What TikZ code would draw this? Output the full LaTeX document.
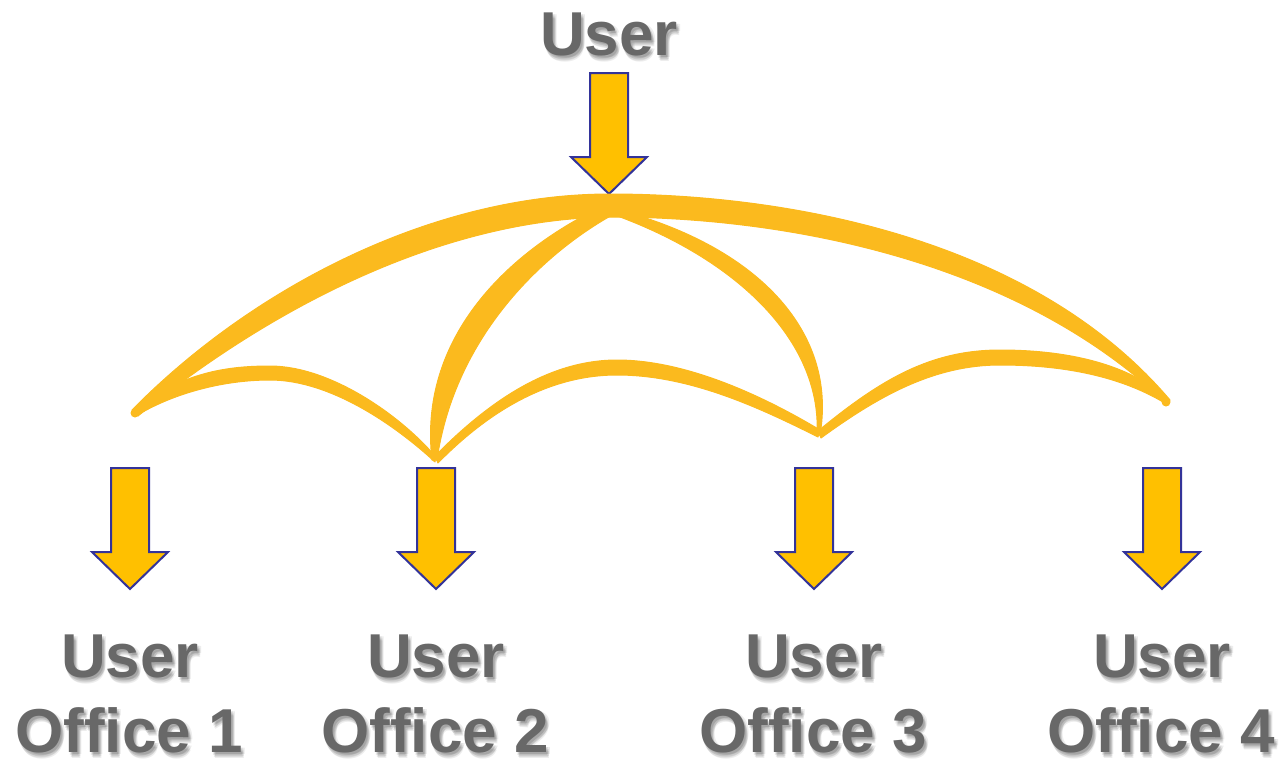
\documentclass[tikz,border=0pt]{standalone}
\usepackage{fontspec}
\setmainfont{Liberation Sans}
\definecolor{umb}{RGB}{251,186,30}
\definecolor{arrfill}{RGB}{255,192,0}
\definecolor{arrline}{RGB}{51,51,153}
\definecolor{txtgray}{RGB}{104,104,104}
\tikzset{
  arrowshape/.style={fill=arrfill, draw=arrline, line width=2pt, line join=miter},
  blockarrow/.pic={\draw[arrowshape] (-19,0) -- (19,0) -- (19,84) -- (38,84) -- (0,121) -- (-38,84) -- (-19,84) -- cycle;},
  umbfill/.style={fill=umb, draw=umb, line width=1pt, line join=round},
  lbl/.style={font=\fontsize{62}{74}\selectfont\bfseries, text=txtgray, inner sep=0pt, anchor=base, text depth=0pt},
  lblshadow/.style={lbl, text=black, opacity=0.07},
}
\newcommand{\shadowlabel}[3]{%
  \foreach \dx/\dy [count=\k] in {1/3,3/4,2/5,4/2,2/2,3/6}{%
    \node[lblshadow, xshift=\dx pt, yshift=-\dy pt] (#1-s\k) at (#2) {#3};}
  \node[lbl] (#1) at (#2) {#3};
}
\begin{document}
\begin{tikzpicture}[x=1pt,y=-1pt]
\useasboundingbox (0,0) rectangle (1284,764);
% labels
\shadowlabel{top}{609,55}{User}
\shadowlabel{u1}{130,677}{User}
\shadowlabel{o1}{129,752}{Office 1}
\shadowlabel{u2}{436,677}{User}
\shadowlabel{o2}{435,752}{Office 2}
\shadowlabel{u3}{814,677}{User}
\shadowlabel{o3}{813,752}{Office 3}
\shadowlabel{u4}{1162,677}{User}
\shadowlabel{o4}{1161,752}{Office 4}
% arrows
\pic (atop) at (609,73) {blockarrow};
\pic (a1) at (130,468) {blockarrow};
\pic (a2) at (436,468) {blockarrow};
\pic (a3) at (814,468) {blockarrow};
\pic (a4) at (1162,468) {blockarrow};
% umbrella: outer canopy
\fill[umbfill] (132,410) .. controls (250,290) and (430,194) .. (610,194)
  .. controls (780,194) and (1030,235) .. (1170,400) -- (1168,405)
  .. controls (1020,262) and (790,217) .. (610,217)
  .. controls (440,219) and (268,310) .. (138,416) -- cycle;
\fill[umb] (135,413) circle (4.5);
\fill[umb] (1166,402) circle (4.5);
% ribs
\fill[umbfill] (595,210) .. controls (505,255) and (418,340) .. (432,460)
  -- (437,460) .. controls (455,335) and (545,252) .. (614,214) -- cycle;
\fill[umbfill] (615,209) .. controls (755,245) and (838,330) .. (820,435)
  -- (817,435) .. controls (822,340) and (735,258) .. (612,214) -- cycle;
% scallops
\fill[umbfill] (133,410) .. controls (180,375) and (220,366) .. (270,366)
  .. controls (330,366) and (400,415) .. (435,456) -- (435,462)
  .. controls (395,425) and (330,380) .. (270,380)
  .. controls (220,380) and (170,395) .. (136,416) -- cycle;
\fill[umbfill] (435,456) .. controls (490,400) and (550,360) .. (617,360)
  .. controls (690,360) and (770,400) .. (820,430) -- (818,437)
  .. controls (760,408) and (690,375) .. (617,375)
  .. controls (550,375) and (490,410) .. (438,463) -- cycle;
\fill[umbfill] (818,431) .. controls (880,380) and (930,350) .. (1000,350)
  .. controls (1070,350) and (1130,365) .. (1166,398) -- (1168,405)
  .. controls (1120,375) and (1060,365) .. (1000,365)
  .. controls (935,365) and (880,395) .. (821,438) -- cycle;
\end{tikzpicture}
\end{document}
